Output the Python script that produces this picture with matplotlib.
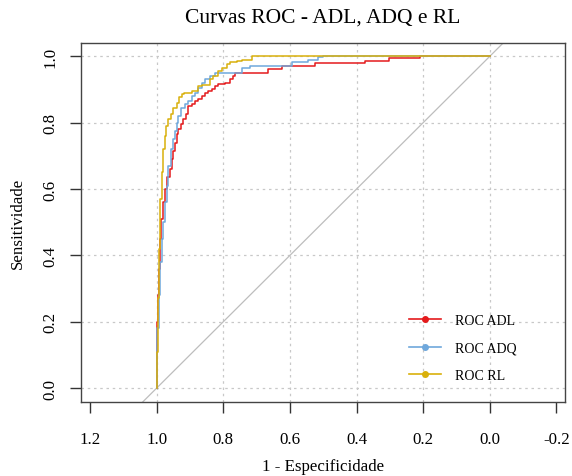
import numpy as np
import matplotlib
matplotlib.use("Agg")
import matplotlib.pyplot as plt
from matplotlib.lines import Line2D

plt.rcParams['font.family'] = ['Liberation Serif', 'DejaVu Serif']

# curvas ROC (especificidade, sensibilidade)
esp_adl = [1.000, 0.998, 0.996, 0.993, 0.990, 0.986, 0.982, 0.975, 0.968, 0.960,
           0.955, 0.950, 0.945, 0.940, 0.935, 0.928, 0.920, 0.912, 0.905, 0.895,
           0.885, 0.875, 0.865, 0.855, 0.845, 0.835, 0.825, 0.815, 0.795, 0.780,
           0.770, 0.765, 0.755, 0.665, 0.625, 0.525, 0.375, 0.304, 0.210, 0.000]
sen_adl = [0.000, 0.080, 0.200, 0.280, 0.360, 0.450, 0.510, 0.560, 0.600, 0.635,
           0.660, 0.690, 0.715, 0.740, 0.765, 0.780, 0.795, 0.810, 0.825, 0.850,
           0.855, 0.865, 0.872, 0.880, 0.888, 0.896, 0.900, 0.910, 0.915, 0.920,
           0.930, 0.940, 0.951, 0.951, 0.962, 0.970, 0.979, 0.987, 0.995, 1.000]

esp_adq = [1.000, 0.998, 0.994, 0.990, 0.985, 0.980, 0.975, 0.970, 0.965, 0.958,
           0.950, 0.945, 0.940, 0.935, 0.928, 0.915, 0.905, 0.895, 0.885, 0.875,
           0.865, 0.855, 0.840, 0.825, 0.805, 0.745, 0.720, 0.595, 0.545, 0.515,
           0.500, 0.000]
sen_adq = [0.000, 0.080, 0.180, 0.280, 0.380, 0.450, 0.500, 0.560, 0.610, 0.670,
           0.720, 0.750, 0.775, 0.800, 0.820, 0.845, 0.855, 0.865, 0.880, 0.890,
           0.905, 0.920, 0.930, 0.940, 0.951, 0.951, 0.964, 0.972, 0.982, 0.990,
           0.997, 1.000]

esp_rl = [1.000, 0.997, 0.994, 0.990, 0.985, 0.980, 0.976, 0.972, 0.966, 0.958,
          0.950, 0.940, 0.932, 0.924, 0.918, 0.895, 0.875, 0.865, 0.840, 0.830,
          0.815, 0.805, 0.790, 0.780, 0.760, 0.745, 0.715, 0.705, 0.000]
sen_rl = [0.000, 0.110, 0.270, 0.420, 0.570, 0.650, 0.720, 0.760, 0.790, 0.810,
          0.825, 0.845, 0.860, 0.878, 0.886, 0.890, 0.895, 0.910, 0.912, 0.930,
          0.940, 0.957, 0.965, 0.977, 0.982, 0.987, 0.990, 1.000, 1.000]

nomes = ['ROC ADL', 'ROC ADQ', 'ROC RL']
cores = ['#E41A1C', '#6FA8DC', '#D9B00C']

fig = plt.figure(figsize=(5.72, 4.77), dpi=100)
ax = fig.add_axes([0.1411, 0.1558, 0.8475, 0.752])

ax.set_xlim(1.228, -0.227)
ax.set_ylim(-0.041, 1.04)

# grade pontilhada
for v in np.arange(0, 1.01, 0.2):
    ax.axvline(v, color='#C8C8C8', ls=(0, (2, 3)), lw=0.9, zorder=0)
    ax.axhline(v, color='#C8C8C8', ls=(0, (2, 3)), lw=0.9, zorder=0)

# diagonal de referencia
ax.plot([1.3, -0.3], [-0.3, 1.3], color='#BDBDBD', lw=0.9, zorder=1)

curvas = [(esp_adl, sen_adl), (esp_adq, sen_adq), (esp_rl, sen_rl)]
for (esp, sen), cor in zip(curvas, cores):
    ax.plot(esp, sen, color=cor, lw=1.1, drawstyle='steps-pre', zorder=2)

ax.set_xticks(np.arange(-0.2, 1.21, 0.2))
ax.set_xticklabels(['-0.2', '0.0', '0.2', '0.4', '0.6', '0.8', '1.0', '1.2'])
ax.set_yticks(np.arange(0, 1.01, 0.2))
ax.set_yticklabels(['0.0', '0.2', '0.4', '0.6', '0.8', '1.0'])
ax.tick_params(length=8, width=1, color='#333333', labelsize=12.2)
ax.tick_params(axis='x', pad=13)
ax.tick_params(axis='y', labelrotation=90, pad=8)
for lab in ax.get_yticklabels():
    lab.set_va('center')
for s in ax.spines.values():
    s.set_color('#444444')
    s.set_linewidth(1.0)

ax.set_xlabel('1 - Especificidade', fontsize=12.2, va='center')
ax.xaxis.set_label_coords(0.5, -0.179)
ax.set_ylabel('Sensitividade', fontsize=12.2, va='center')
ax.yaxis.set_label_coords(-0.1293, 0.5)
ax.set_title('Curvas ROC - ADL, ADQ e RL', fontsize=15.5, y=1.0725, va='center', pad=0)

handles = [Line2D([0], [0], color=c, lw=1.2, marker='o', ms=4) for c in cores]
ax.legend(handles, nomes, loc='upper left', bbox_to_anchor=(0.677, 0.245),
          frameon=False, fontsize=10, handlelength=2.3, handletextpad=1.05,
          labelspacing=1.06, borderpad=0, borderaxespad=0)

fig.savefig('out.png', dpi=100)
